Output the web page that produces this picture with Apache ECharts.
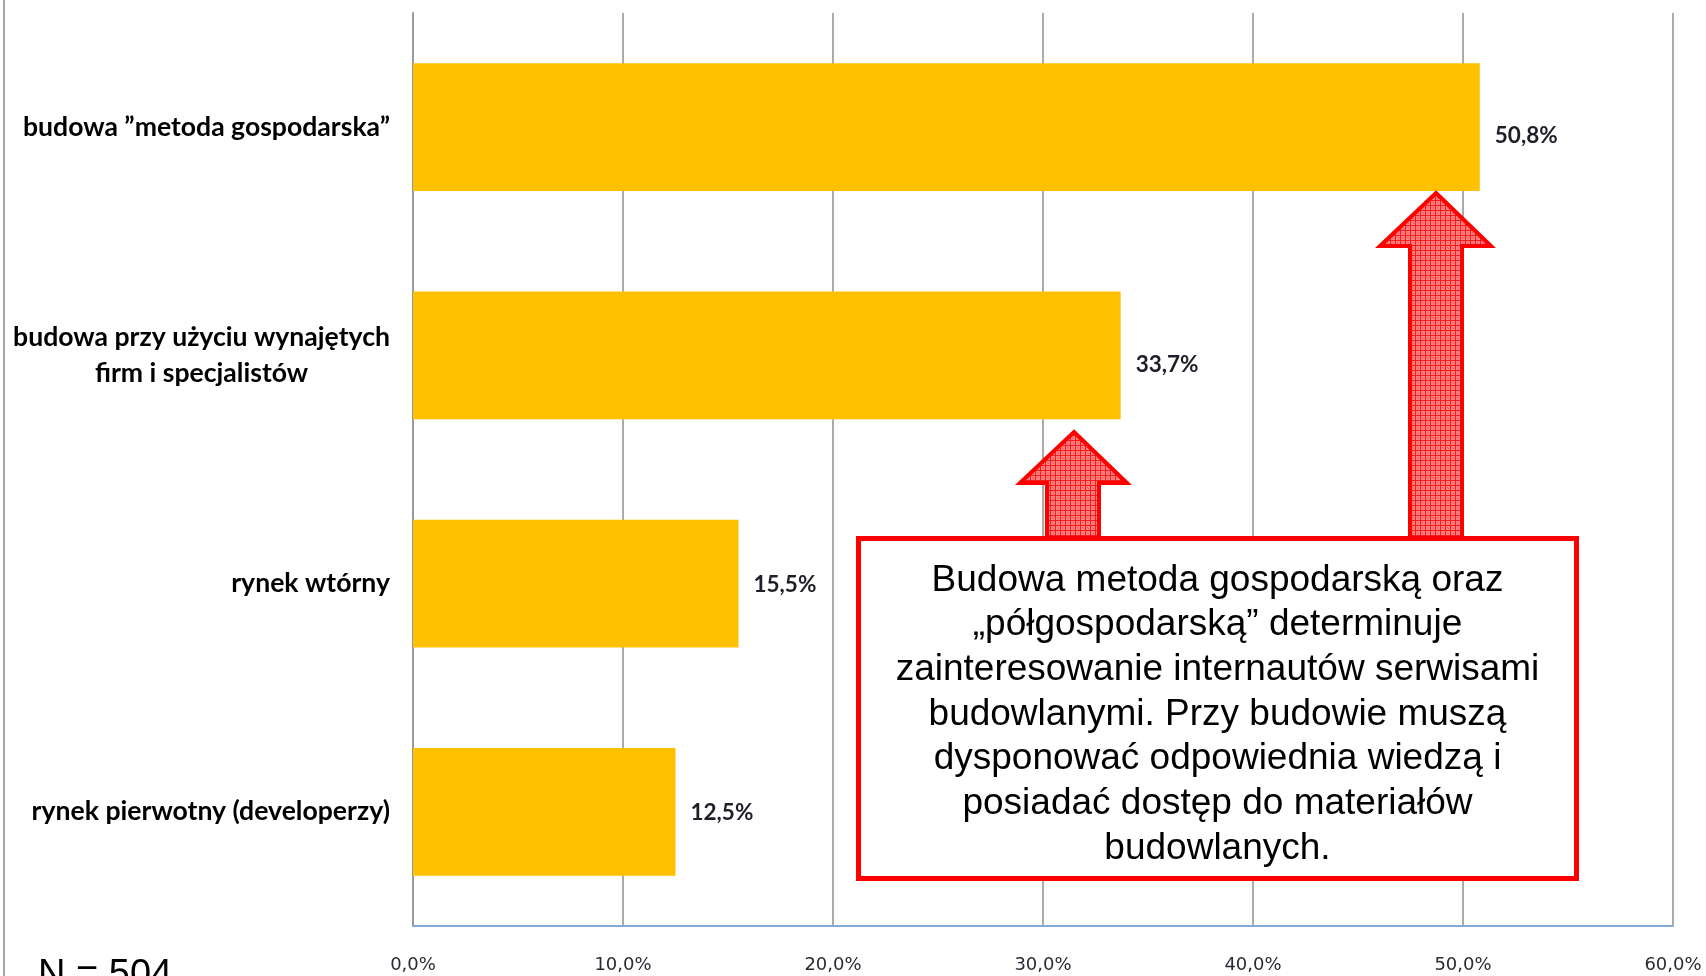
<!DOCTYPE html>
<html>
<head>
<meta charset="utf-8">
<style>
html,body{margin:0;padding:0;background:#fff;}
#chart{width:1706px;height:976px;}
</style>
<script src="https://cdn.jsdelivr.net/npm/echarts@6/dist/echarts.min.js"></script>
</head>
<body>
<div id="chart"></div>
<script>
// ---- data ----
const categories = [
  'budowa ”metoda gospodarska”',
  'budowa przy użyciu wynajętych\nfirm i specjalistów',
  'rynek wtórny',
  'rynek pierwotny (developerzy)'
];
const values = [50.8, 33.7, 15.5, 12.5];
const axisMin = 0, axisMax = 60, axisStep = 10;
const noteLines = [
  'Budowa metoda gospodarską oraz',
  '„półgospodarską” determinuje',
  'zainteresowanie internautów serwisami',
  'budowlanymi. Przy budowie muszą',
  'dysponować odpowiednia wiedzą i',
  'posiadać dostęp do materiałów',
  'budowlanych.'
];
const sampleLabel = 'N = 504';

const fmtPct = v => v.toFixed(1).replace('.', ',') + '%';

// hatch pattern for arrows
const pc = document.createElement('canvas');
pc.width = 5; pc.height = 5;
const g = pc.getContext('2d');
g.fillStyle = 'rgb(255,128,128)';
g.fillRect(0, 0, 5, 5);
g.fillStyle = 'rgba(240,20,20,0.9)';
g.fillRect(0, 0, 5, 1);
g.fillRect(0, 0, 1, 5);
g.fillStyle = 'rgba(255,70,70,0.7)';
g.fillRect(2, 2, 1, 1);
g.fillRect(3, 3, 1, 1);
const hatch = { image: pc, repeat: 'repeat' };

const chart = echarts.init(document.getElementById('chart'));

function arrow(tipX, tipY, headY, headL, headR, shaftL, shaftR, bottom) {
  return {
    type: 'polygon',
    z: 100,
    shape: { points: [
      [tipX, tipY], [headR, headY], [shaftR, headY], [shaftR, bottom],
      [shaftL, bottom], [shaftL, headY], [headL, headY]
    ] },
    style: { fill: hatch, stroke: '#ff0000', lineWidth: 4, lineJoin: 'miter' }
  };
}

// label vertical nudge per row (style, not data)
const labelNudge = i => (i < 2 ? 9 : 1);

chart.setOption({
  animation: false,
  backgroundColor: '#ffffff',
  grid: { left: 413, right: 33, top: 13, bottom: 50, containLabel: false, outerBoundsMode: 'none' },
  xAxis: {
    type: 'value',
    min: axisMin, max: axisMax, interval: axisStep,
    axisLine: { show: true, lineStyle: { color: '#86a8d6', width: 2 } },
    axisTick: { show: false },
    splitLine: { show: true, lineStyle: { color: '#8f8f8f', width: 1.5 } },
    axisLabel: {
      margin: 30,
      color: '#2a2a36',
      fontFamily: 'DejaVu Sans',
      fontSize: 18,
      formatter: v => fmtPct(v)
    }
  },
  yAxis: {
    type: 'category',
    inverse: true,
    data: categories,
    axisLine: { show: true, lineStyle: { color: '#9a9a9a', width: 2 } },
    axisTick: { show: false },
    axisLabel: {
      margin: 23,
      align: 'right',
      formatter: v => v.split('\n').map(s => '{a|' + s + '}').join('\n'),
      rich: {
        a: {
          align: 'center',
          fontFamily: 'Lato',
          fontWeight: 'bold',
          fontSize: 26.6,
          lineHeight: 36,
          color: '#000'
        }
      }
    }
  },
  series: [{
    type: 'bar',
    data: values.map((v, i) => ({ value: v, label: { offset: [0, labelNudge(i)] } })),
    barWidth: '56%',
    itemStyle: { color: '#ffc000' },
    label: {
      show: true,
      position: 'right',
      distance: 15,
      fontFamily: 'Lato',
      fontWeight: 'bold',
      fontSize: 22.5,
      color: '#1e1e2a',
      formatter: p => fmtPct(p.value)
    }
  }],
  graphic: [
    { type: 'line', shape: { x1: 4, y1: 0, x2: 4, y2: 976 },
      style: { stroke: '#a6a6a6', lineWidth: 2 } },
    arrow(1436, 193, 246, 1380, 1491, 1410, 1462, 540),
    arrow(1074, 432, 483, 1020, 1127, 1047, 1099, 540),
    { type: 'rect', z: 101,
      shape: { x: 858.5, y: 538.5, width: 718, height: 340 },
      style: { fill: '#ffffff', stroke: '#ff0000', lineWidth: 5 } },
    { type: 'text', z: 102, x: 1217.5, y: 714.5,
      style: {
        text: noteLines.join('\n'),
        font: '37px "Liberation Sans"',
        lineHeight: 44.7,
        fill: '#000',
        align: 'center',
        verticalAlign: 'middle'
      } },
    { type: 'text', z: 102, x: 38, y: 976,
      style: {
        text: sampleLabel,
        font: '38px "Liberation Sans"',
        fill: '#000',
        align: 'left',
        verticalAlign: 'middle'
      } }
  ]
});
</script>
</body>
</html>
